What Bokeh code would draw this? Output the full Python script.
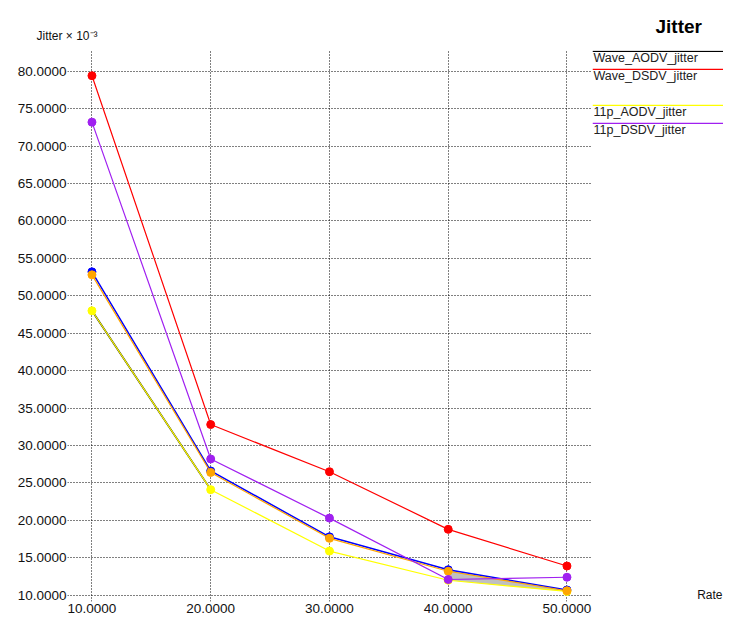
from bokeh.plotting import figure
from bokeh.layouts import row
from bokeh.models import Range1d, FixedTicker, NumeralTickFormatter
from bokeh.core.properties import value
from bokeh.embed import file_html
from bokeh.resources import INLINE

# ---------------- data ----------------
rates = [10, 20, 30, 40, 50]
wave_dsdv = [79.4, 32.8, 26.5, 18.8, 13.9]      # red
p11_dsdv = [73.2, 28.2, 20.3, 12.1, 12.4]       # purple
p11_aodv = [48.0, 24.1, 15.9, 12.0, 10.5]       # yellow
blue_series = [53.2, 26.6, 17.8, 13.4, 10.7]    # blue
orange_series = [52.8, 26.4, 17.6, 13.2, 10.6]  # orange
wave_aodv_rates = [10, 20]
wave_aodv = [48.0, 24.1]                        # black (mostly hidden under yellow)
x_ticks = [10, 20, 30, 40, 50]
y_ticks = [10, 15, 20, 25, 30, 35, 40, 45, 50, 55, 60, 65, 70, 75, 80]
legend_names = ["Wave_AODV_jitter", "Wave_DSDV_jitter", "", "11p_AODV_jitter", "11p_DSDV_jitter"]
legend_colors = ["#000000", "#ff0000", None, "#ffff00", "#a020f0"]

FONT = "Liberation Sans"

# ---------------- main plot ----------------
MW, H = 592, 620
BL, BT, BB = 67, 50, 19
X0, X1 = 7.94, 52.15
Y0, Y1 = 9.16, 82.77

p = figure(width=MW, height=H, output_backend="svg", toolbar_location=None,
           x_range=Range1d(X0, X1), y_range=Range1d(Y0, Y1),
           min_border_left=BL, min_border_right=0, min_border_top=BT, min_border_bottom=BB)
p.outline_line_color = None
p.background_fill_color = "white"
p.border_fill_color = "white"

p.title.text = "Jitter × 10⁻³"
p.title.align = "left"
p.title.offset = -31
p.title.standoff = 15
p.title.text_font = FONT
p.title.text_font_size = "12px"
p.title.text_font_style = "normal"
p.title.text_color = "#111111"

for ax in (p.xaxis[0], p.yaxis[0]):
    ax.axis_line_color = None
    ax.major_tick_line_color = None
    ax.minor_tick_line_color = None
    ax.major_tick_in = 0
    ax.major_tick_out = 0
    ax.minor_tick_in = 0
    ax.minor_tick_out = 0
    ax.major_label_text_font = FONT
    ax.major_label_text_font_size = "13.5px"
    ax.major_label_text_color = "#111111"
    ax.formatter = NumeralTickFormatter(format="0.0000")
p.xaxis.ticker = FixedTicker(ticks=x_ticks)
p.yaxis.ticker = FixedTicker(ticks=y_ticks)
p.xaxis.major_label_standoff = 2
p.yaxis.major_label_standoff = 1

for g in (p.xgrid[0], p.ygrid[0]):
    g.grid_line_color = "#000000"
    g.grid_line_dash = "1 2"
    g.grid_line_width = 1
p.xgrid.ticker = FixedTicker(ticks=x_ticks)
p.ygrid.ticker = FixedTicker(ticks=y_ticks)

# grey area between curves
p.varea(x=rates[3:], y1=p11_aodv[3:], y2=blue_series[3:], fill_color="#c0c0c0")

# series
p.line(rates, blue_series, line_color="#0000ff", line_width=1.5)
p.scatter(rates, blue_series, size=8, color="#0000ff")
p.line(wave_aodv_rates, wave_aodv, line_color="#000000", line_width=1.6)
p.line(rates, p11_aodv, line_color="#ffff00", line_width=1.2)
p.scatter(rates, p11_aodv, size=8, color="#ffff00")
p.line(rates, orange_series, line_color="#ffa500", line_width=1.2)
p.scatter(rates, orange_series, size=8, color="#ffa500")
p.line(rates, p11_dsdv, line_color="#a020f0", line_width=1.2)
p.scatter(rates, p11_dsdv, size=8, color="#a020f0")
p.line(rates, wave_dsdv, line_color="#ff0000", line_width=1.2)
p.scatter(rates, wave_dsdv, size=8, color="#ff0000")

# ---------------- legend panel (frame in pixel coordinates) ----------------
LW = 723 - MW
FT, FB = BT, H - BB  # frame top/bottom in page pixels (aligned with main plot)
leg = figure(width=LW, height=H, output_backend="svg", toolbar_location=None,
             x_range=Range1d(MW, MW + LW), y_range=Range1d(FB, FT),
             x_axis_type=None, y_axis_type=None,
             min_border_left=0, min_border_right=0, min_border_top=BT, min_border_bottom=BB)
leg.outline_line_color = None
leg.xgrid.visible = False
leg.ygrid.visible = False
leg.background_fill_color = "white"
leg.border_fill_color = "white"

leg.title.text = "Jitter"
leg.title.align = "left"
leg.title.offset = 63
leg.title.standoff = 27
leg.title.text_font = FONT
leg.title.text_font_size = "19px"
leg.title.text_font_style = "bold"
leg.title.text_color = "#000000"

seg_y = [50.8 + 18 * i for i, c in enumerate(legend_colors) if c is not None]
seg_c = [c for c in legend_colors if c is not None]
leg.segment(x0=[MW] * len(seg_y), y0=seg_y, x1=[MW + LW] * len(seg_y), y1=seg_y,
            line_color=seg_c, line_width=1.2)
txt_y = [57 + 18 * i for i, n in enumerate(legend_names) if n]
txt = [n for n in legend_names if n]
leg.text(x=[MW + 1] * len(txt), y=txt_y, text=txt, text_font=value(FONT),
         text_font_size="12.5px", text_align="left", text_baseline="middle",
         text_color="#222222")

leg.text(x=[MW + LW - 1], y=[594], text=["Rate"], text_font=value(FONT),
         text_font_size="12px", text_align="right", text_baseline="middle",
         text_color="#111111")

layout = row(p, leg, spacing=0)
open("out.html", "w").write(file_html(layout, INLINE))
